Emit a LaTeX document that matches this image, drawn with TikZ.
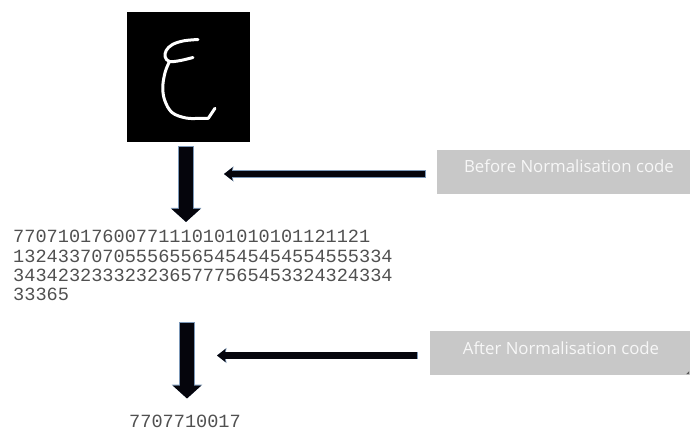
\documentclass[tikz,border=0pt]{standalone}
\usepackage{fontspec}
\setmainfont{Open Sans}
\newfontfamily\codefont{Liberation Mono}
\usetikzlibrary{arrows.meta}
\definecolor{boxgray}{HTML}{C8C8C8}
\definecolor{codegray}{HTML}{505050}
\definecolor{arrowink}{HTML}{05050C}
\definecolor{arrowedge}{HTML}{7C98B8}
\tikzset{
  labelbox/.style={fill=boxgray, draw=none, inner sep=0pt, minimum width=253pt, minimum height=44pt},
  labeltext/.style={text=white!94!gray, font=\fontsize{16.8}{20}\selectfont, inner sep=0pt},
  codetext/.style={text=codegray, font=\codefont\fontsize{18.6}{19.3}\selectfont, inner sep=0pt, align=left},
  bigdown/.style={arrowink, line width=14pt, -{Triangle[width=28pt,length=13pt]}},
  bigdownedge/.style={arrowedge, line width=15.4pt, -{Triangle[width=30pt,length=14pt]}},
  thinleft/.style={arrowink, line width=6.4pt, -{Stealth[width=13pt,length=8.5pt,inset=1.5pt]}},
  thinleftedge/.style={arrowedge, line width=7.6pt, -{Stealth[width=15pt,length=9.5pt,inset=1.5pt]}},
}
\begin{document}
\begin{tikzpicture}[x=1pt,y=-1pt]
  \useasboundingbox (0,0) rectangle (691,430);

  % handwritten character on a black tile
  \node[fill=black, inner sep=0pt, minimum width=123pt, minimum height=130pt] (img) at (188.5,77) {};
  \draw[white, line width=3pt, line cap=round, line join=round]
    plot[smooth, tension=0.6] coordinates {(198,39.5) (184,40.8) (172.5,44.5) (166.2,50.5) (165.2,57) (169.5,61.5) (180,60.6) (193,57.5)};
  \draw[white, line width=3pt, line cap=round, line join=round]
    plot[smooth, tension=0.6] coordinates {(169.5,61.5) (165.2,72) (162.8,86.5) (164.6,100) (172,112.5) (186,118) (200,118.4) (208.3,118.3)}
    -- (215,108.3);

  % label boxes
  \node[labelbox] (box1) at (563.5,172) {};
  \node[labeltext] (lab1) at ([xshift=5.5pt,yshift=6pt]box1.center) {Before Normalisation code};
  \node[labelbox, minimum width=260pt] (box2) at (560,353) {};
  \node[labeltext] (lab2) at ([xshift=1pt,yshift=5pt]box2.center) {After Normalisation code};
  \fill[gray!70!black] ([xshift=-4pt,yshift=1pt]box2.south east) -- ([xshift=-1pt,yshift=1pt]box2.south east) -- ([xshift=-1pt,yshift=4pt]box2.south east) -- cycle;

  % chain codes (the multi-line node is placed by the baseline of its last line)
  \node[codetext, anchor=base west] (code1) at (13,300.9) {77071017600771110101010101121121\\1324337070555655654545454554555334\\3434232333232365777565453324324334\\33365};
  \node[codetext, anchor=base west] (code2) at (129,427.5) {7707710017};

  % arrow end points
  \coordinate (d1s) at (186,147);
  \coordinate (d1e) at (186,222);
  \coordinate (h1s) at (425,174);
  \coordinate (h1e) at (224,174);
  \coordinate (d2s) at (187,323);
  \coordinate (d2e) at (187,398.5);
  \coordinate (h2s) at (417,355.5);
  \coordinate (h2e) at (217,355.5);

  % arrows
  \draw[bigdownedge] ([yshift=0.7pt]d1s) -- (d1e);
  \draw[bigdown] (d1s) -- (d1e);
  \draw[thinleftedge] ([xshift=0.7pt]h1s) -- (h1e);
  \draw[thinleft] (h1s) -- (h1e);
  \draw[bigdownedge] ([yshift=0.7pt]d2s) -- (d2e);
  \draw[bigdown] (d2s) -- (d2e);
  \draw[thinleftedge] ([xshift=0.7pt]h2s) -- (h2e);
  \draw[thinleft] (h2s) -- (h2e);
\end{tikzpicture}
\end{document}
